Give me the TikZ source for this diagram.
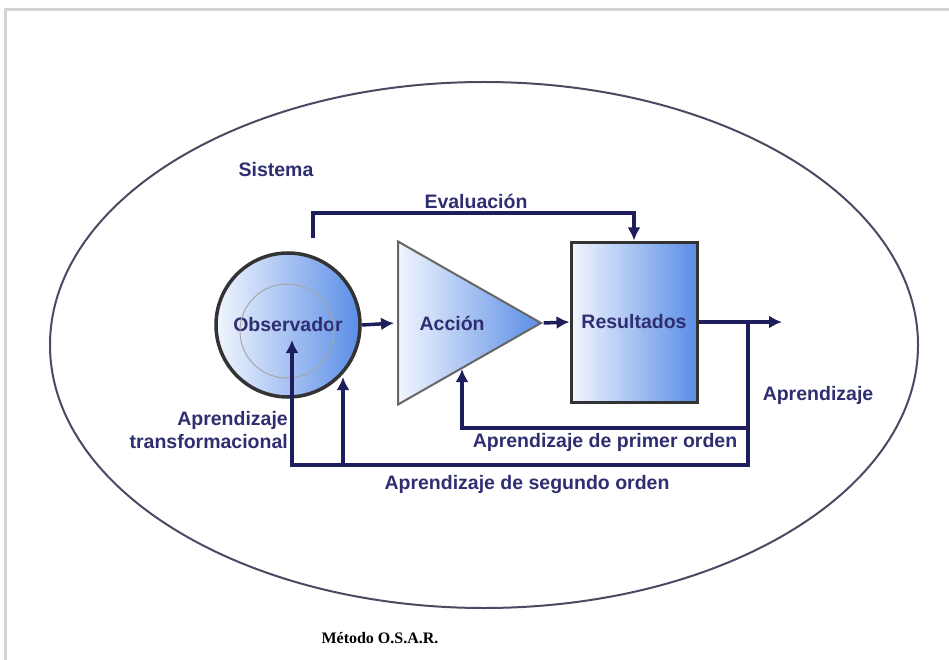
\documentclass[tikz,border=0pt]{standalone}
\usepackage{fontspec}
\setmainfont{Liberation Serif}
\setsansfont{Liberation Sans}
\usetikzlibrary{positioning,shapes.geometric,arrows.meta}
\definecolor{navy}{HTML}{1E1E5C}
\definecolor{txtnavy}{HTML}{2E2E70}
\definecolor{lightblue}{HTML}{F2F6FE}
\definecolor{midblue}{HTML}{5A8DE6}
\definecolor{ringgray}{HTML}{4E4862}
\definecolor{framegray}{HTML}{D4D4D4}

\begin{document}
\begin{tikzpicture}[x = 1pt, y = -1pt,
  every node/.style = {font = \sffamily\bfseries\fontsize{19.5}{23}\selectfont,
    text = txtnavy, inner sep = 0pt},
  flow/.style = {draw = navy, line width = 3.5pt, -{Latex[length=13pt,width=13pt]}},
  block/.style = {left color = lightblue, right color = midblue}]
  \useasboundingbox (0,0) rectangle (949,660);
  \draw [framegray, line width = 3pt] (949,10) -- (5,10) -- (5,660);
  \draw [ringgray, line width = 2pt] (484,345) ellipse [x radius = 434, y radius = 263];

  \node (Sistema) at (276,170) {Sistema};
  \node (Obs) [circle, minimum size = 144pt, draw = black!80, line width = 3.5pt, block] at (288,325) {Observador};
  \node (Nucleo) [circle, minimum size = 94pt, draw = gray!70, line width = 1pt] at (287,331) {};
  \node (Accion) [isosceles triangle, isosceles triangle stretches, shape border rotate = 0,
    minimum width = 163pt, minimum height = 143pt, draw = gray!80!black, line width = 2pt,
    block, anchor = west] at (397,323) {Acción};
  \node (Res) [rectangle, minimum width = 126pt, minimum height = 160pt, draw = black!80,
    line width = 3pt, block] at (634,322) {Resultados};

  \node (Eval) at (476,201) {Evaluación};
  \node (Transf) [align = right, anchor = east] at (288,430) {Aprendizaje\\transformacional};
  \node (AprSalida) at (818,395) {Aprendizaje};
  \node (Primer) at (605,442) {Aprendizaje de primer orden};
  \node (Segundo) at (527,484) {Aprendizaje de segundo orden};
  \node (Titulo) [font = \rmfamily\bfseries\fontsize{16}{18}\selectfont, text = black] at (380,638) {Método O.S.A.R.};

  \coordinate (EvalIni) at (313,238);
  \coordinate (Salida) at (782,322);
  \coordinate (Split) at (748,322);
  \coordinate (AccIn) at (462,369);
  \coordinate (ObsIn) at (292,340);
  \coordinate (ObsBorde) at (343,377);

  \draw [flow] (EvalIni) -- ++(0,-25) -| (Res.north);
  \draw [flow, shorten > = 3pt] (Obs.east) -- (Accion.west);
  \draw [flow] (Accion.apex) -- (Res.west);
  \draw [flow] (Res.east) -- (Salida);
  \draw [flow] (Split) -- (Split |- 0,428) -| (AccIn);
  \draw [flow] (Split) -- (Split |- 0,465) -| (ObsIn);
  \draw [flow] (ObsBorde |- 0,465) -- (ObsBorde);
\end{tikzpicture}
\end{document}
